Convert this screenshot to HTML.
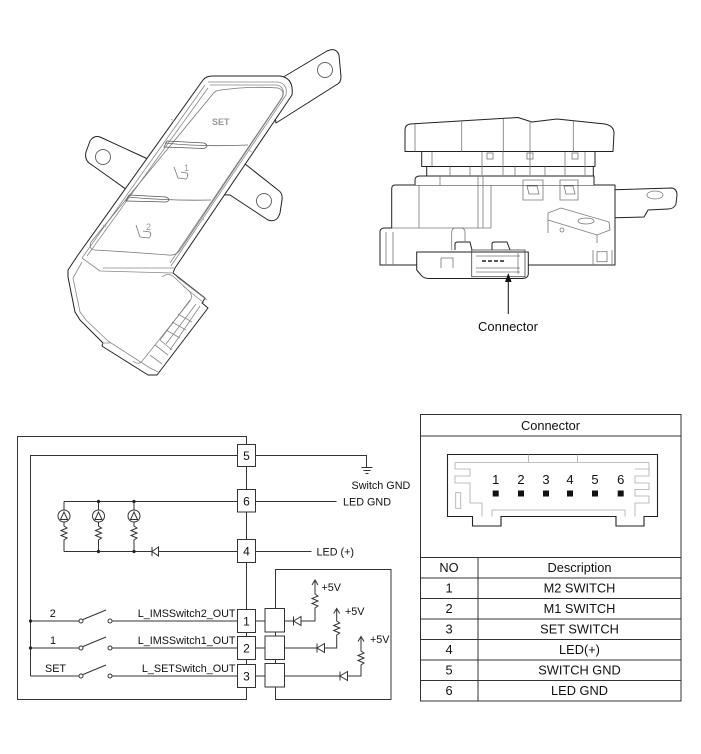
<!DOCTYPE html>
<html><head><meta charset="utf-8"><style>
html,body{margin:0;padding:0;background:#fff;}
svg{display:block;}
text{font-family:"Liberation Sans",Arial,sans-serif;fill:#111;}
</style></head><body>
<svg width="701" height="754" viewBox="0 0 701 754" xmlns="http://www.w3.org/2000/svg">
<!-- ============ LEFT SWITCH ILLUSTRATION ============ -->
<g stroke="#222" stroke-width="1" fill="#fff" stroke-linejoin="round">
  <path d="M270,85 L327,51 Q336,47 339,55 L341,77 Q341,83 336,85 L276,123 Z"/>
  <circle cx="325" cy="70" r="7.5" stroke="#666"/>
  <path d="M150,160 L100,137 Q94,135 90,141 L86,152 Q84,161 92,165 L130,192 L230,195 L268,220 Q277,223 280,213 L282,200 Q283,193 278,190 L240,160 Z"/>
  <circle cx="103" cy="157" r="7.5" stroke="#666"/>
  <circle cx="264" cy="201" r="7.5" stroke="#666"/>
  <path d="M78,255 L68,270 L68,277 L75,312 L80,320 L103,343 L102,346 L105,348 L148,375 L157,375 L208,308 L202,303 L205,298 L173,273 L175,268 L292,95 Q294,78 280,76 L213,76 Q206,76 203,80 Z"/>
</g>
<g stroke="#888" stroke-width="0.8" fill="none" stroke-linejoin="round">
  <path d="M208,82 L278,82 Q288,84 286,95 L171,266"/>
  <path d="M210,85 L277,85 Q285,87 283,96 L170,263"/>
  <path d="M205,85 L82,258"/>
  <path d="M208,88 L87,256"/>
  <path d="M82,258 L100,271 L173,273"/>
  <path d="M103,268 L175,268"/>
  <path d="M221,90 Q250,86 278,88 Q285,90 282,98 L180,250 Q176,256 168,255 Q130,252 95,250 Q88,249 91,242 L212,95 Q215,90 221,90 Z" stroke="#777"/>
  <path d="M165,143 Q200,147 248,145" stroke="#666"/>
  <path d="M127,197 Q170,201 211,200" stroke="#666"/>
  <path d="M167,141 L204,143 Q210,146 204,148.5 L164,147 Z" stroke="#555"/>
  <path d="M129,195 L166,197 Q172,200 166,202 L126,201 Z" stroke="#555"/>
  <path d="M82,262 L73,278 L80,312 L86,320 L108,341 L150,368"/>
  <path d="M162,277 Q168,272 174,277 L190,292 Q193,297 190,301 L143,360 Q139,366 133,361"/>
  <path d="M177,277 L207,300 M183,286 L204,303 M190,300 L160,340 M196,304 L166,344 M200,306 L170,350 M160,340 L172,350 M166,330 L180,338 M172,322 L186,330 M178,314 L192,322 M150,355 L162,364 M155,345 L168,355"/>
  <path d="M150,368 L158,372 M103,343 L110,343"/>
  <path d="M174,167 L178,178 L186,179 Q189,176 187,173 L181,172" stroke="#777"/>
  <path d="M136,225 L140,237 L149,238 Q152,235 150,232 L143,231" stroke="#777"/>
  <path d="M171,119 L174,121 M248,150 L252,152 M103,225 L106,227 M200,218 L204,220" stroke="#aaa"/>
</g>
<text x="212" y="125" font-size="9" style="fill:#999;font-weight:bold">SET</text>
<text x="184" y="171" font-size="9" style="fill:#999">1</text>
<text x="146" y="230" font-size="9" style="fill:#999">2</text>

<!-- ============ RIGHT MODULE ILLUSTRATION ============ -->
<g stroke="#222" stroke-width="1" fill="#fff" stroke-linejoin="round">
  <path d="M605,190 L672,188 Q677,189 677,195 L676,204 Q674,209 668,209 L648,210 L644,217 L603,218 Z"/>
  <path d="M395,185 L615,185 L615,265 L380,265 L380,232 Q380,228 385,228 L391.7,228 L391.7,189 Q391.7,185 395,185 Z"/>
  <path d="M415,185 L415,180 Q415,176 420,176 L594,176 L594,185"/>
  <rect x="426.7" y="166.5" width="166.6" height="9.5"/>
  <rect x="421.7" y="151.5" width="173.3" height="15"/>
  <path d="M405,151.5 L405,130 Q405,125 410,124 L518,117.5 L532,122 L557,119 L605,124 Q614,126 614,133 L613,151.5 Z"/>
  <path d="M416.7,252 L528.3,252 L528.3,274 Q528,278.5 522,278.5 L428,278.5 Q423,278 421,275 L416.7,270 Z"/>
  <path d="M455,250 L455,244 Q455,242 458,242 L470,242 L472,250 M492,250 L492,244 Q492,242 495,242 L507,242 L510,250" fill="none"/>
</g>
<g stroke="#777" stroke-width="0.8" fill="none">
  <path d="M415,124 V151.5 M461.7,121 V151.5 M503.3,119 V151.5 M530,121 V151.5 M573.3,121 V151.5"/>
  <path d="M432,152 V166 M482,152 V175 M503,152 V175 M530,152 V175 M565,152 V175 M585,152 V175 M450,166.5 V176 M470,166.5 V176 M515,166.5 V176 M545,166.5 V176"/>
  <rect x="487" y="153" width="6" height="6"/><rect x="527" y="153" width="6" height="6"/><rect x="572" y="153" width="6" height="6"/>
  <path d="M419,185 V228 M491,185 V228 M391.7,228 H491 M440,176 V185 M478,176 V228 M483,176 V228"/>
  <path d="M523,180 H543 V200 H523 Z M560,180 H578 V200 H560 Z M527,186 L537,186 L539,194 L529,194 Z M564,186 L573,186 L575,194 L566,194 Z"/>
  <path d="M386,232 V265 M393,232 V265 M451.7,232 V250 M451.7,232 Q452,228 456,228 L462,228 Q465,229 465,232 V242"/>
  <path d="M548,213 L561,208 L609,222 L610,230 L597,235 L548,220 Z M548,220 V233 M597,235 V243"/>
  <ellipse cx="586" cy="221" rx="8" ry="3"/><circle cx="562" cy="230" r="2"/>
  <ellipse cx="655" cy="195" rx="8" ry="4"/>
  <rect x="597" y="251.7" width="10" height="10"/><path d="M593,250 V265 M612,250 V265"/>
  <rect x="471.7" y="250" width="53.3" height="26.7" stroke="#444"/>
  <path d="M476,256 H520 M476,268 H520 M476,272 H520 M441,258 H453 V268 M441,258 V268 M518,253 V274"/>
  <path d="M482,261 H486 M488,261 H492 M494,261 H498 M500,261 H504" stroke="#222" stroke-width="1.5"/>
</g>
<line x1="508.3" y1="280" x2="508.3" y2="314" stroke="#111" stroke-width="1"/>
<path d="M508.3,273 L505,282 L511.6,282 Z" fill="#111"/>
<text x="508" y="331" font-size="13" text-anchor="middle">Connector</text>

<!-- ============ SCHEMATIC ============ -->
<g stroke="#333" stroke-width="1" fill="none">
  <path d="M246.5,436.5 H17.5 V699.5 H246.5 Z"/>
  <path d="M30.5,676 V455.5 H237.5 M255.5,455.5 H366.5 V467"/>
  <path d="M361.5,467.5 H372.5 M363.5,470.5 H370.5 M365.5,473.5 H368.5"/>
  <path d="M64,501.5 H237.5 M255.5,501.5 H336.5"/>
  <path d="M64,551.5 H237.5 M255.5,551.5 H311.5"/>
  <path d="M64,501.5 V510 M64,522 V526 l3,2 l-6,2.5 l6,2.5 l-6,2.5 l6,2.5 l-3,2 V551.5"/>
  <path d="M98.5,501.5 V510 M98.5,522 V526 l3,2 l-6,2.5 l6,2.5 l-6,2.5 l6,2.5 l-3,2 V551.5"/>
  <path d="M134,501.5 V510 M134,522 V526 l3,2 l-6,2.5 l6,2.5 l-6,2.5 l6,2.5 l-3,2 V551.5"/>
  <circle cx="64" cy="516" r="6"/><circle cx="98.5" cy="516" r="6"/><circle cx="134" cy="516" r="6"/>
  <path d="M60.5,519.5 L64,512 L67.5,519.5 Z M95,519.5 L98.5,512 L102,519.5 Z M130.5,519.5 L134,512 L137.5,519.5 Z"/>
  <path d="M152,547 V556 M158.5,547 L152,551.5 L158.5,556 Z" fill="#fff"/>
  <path d="M30.5,621 H79 M83,619.5 L106,610 M112,621 H237.5"/>
  <path d="M30.5,648 H79 M83,646.5 L106,637 M112,648 H237.5"/>
  <path d="M30.5,676 H79 M83,674.5 L106,665 M112,676 H237.5"/>
  <circle cx="81" cy="621" r="2"/><circle cx="110" cy="621" r="2"/>
  <circle cx="81" cy="648" r="2"/><circle cx="110" cy="648" r="2"/>
  <circle cx="81" cy="676" r="2"/><circle cx="110" cy="676" r="2"/>
  <path d="M255.5,621 H265 M255.5,648 H265 M255.5,676 H265"/>
  <path d="M275.5,608.5 V569.5 H391 V699.5 H275.5 V687"/>
  <path d="M275.5,632 V636 M275.5,659.5 V664"/>
  <rect x="265" y="608.5" width="19.5" height="23.5" fill="#fff"/>
  <rect x="265" y="636" width="19.5" height="23.5" fill="#fff"/>
  <rect x="265" y="663.5" width="19.5" height="23.5" fill="#fff"/>
  <path d="M284.5,621 H293.5 M301,621 H315 V608 l3,-2 l-6,-2.5 l6,-2.5 l-6,-2.5 l6,-2.5 l-3,-2 V580 M312,585 L315,580 L318,585"/>
  <path d="M293.5,616.5 V625.5 M301,616.5 L293.5,621 L301,625.5 Z" fill="#fff"/>
  <path d="M284.5,648 H317 M324.5,648 H336.7 V635 l3,-2 l-6,-2.5 l6,-2.5 l-6,-2.5 l6,-2.5 l-3,-2 V608.5 M333.7,613.5 L336.7,608.5 L339.7,613.5"/>
  <path d="M317,643.5 V652.5 M324.5,643.5 L317,648 L324.5,652.5 Z" fill="#fff"/>
  <path d="M284.5,676 H340 M347.5,676 H361 V665 l3,-2 l-6,-2.5 l6,-2.5 l-6,-2.5 l6,-2.5 l-3,-2 V636.5 M358,641.5 L361,636.5 L364,641.5"/>
  <path d="M340,671.5 V680.5 M347.5,671.5 L340,676 L347.5,680.5 Z" fill="#fff"/>
  <rect x="237.5" y="444.5" width="18" height="22" fill="#fff"/>
  <rect x="237.5" y="489.5" width="18" height="22.5" fill="#fff"/>
  <rect x="237.5" y="539.5" width="18" height="23" fill="#fff"/>
  <rect x="237.5" y="609.5" width="18" height="23" fill="#fff"/>
  <rect x="237.5" y="636.5" width="18" height="23" fill="#fff"/>
  <rect x="237.5" y="664.5" width="18" height="23" fill="#fff"/>
</g>
<g fill="#222">
  <circle cx="98.5" cy="501.5" r="1.6"/><circle cx="134" cy="501.5" r="1.6"/>
  <circle cx="98.5" cy="551.5" r="1.6"/><circle cx="134" cy="551.5" r="1.6"/>
  <circle cx="30.5" cy="621" r="1.6"/><circle cx="30.5" cy="648" r="1.6"/>
</g>
<g font-size="12" text-anchor="middle">
  <text x="246.5" y="460">5</text><text x="246.5" y="505.5">6</text><text x="246.5" y="555.5">4</text>
  <text x="246.5" y="625.5">1</text><text x="246.5" y="652.5">2</text><text x="246.5" y="680.5">3</text>
</g>
<g font-size="10.8">
  <text x="351.5" y="489">Switch GND</text>
  <text x="343" y="505.5">LED GND</text>
  <text x="316.5" y="555.5">LED (+)</text>
  <text x="52.7" y="617" text-anchor="middle">2</text>
  <text x="53" y="644" text-anchor="middle">1</text>
  <text x="45" y="672">SET</text>
  <text x="235.5" y="617" text-anchor="end">L_IMSSwitch2_OUT</text>
  <text x="235.5" y="644" text-anchor="end">L_IMSSwitch1_OUT</text>
  <text x="235.5" y="672" text-anchor="end">L_SETSwitch_OUT</text>
  <text x="321.5" y="591">+5V</text>
  <text x="345" y="615">+5V</text>
  <text x="370" y="643">+5V</text>
</g>

<!-- ============ CONNECTOR TABLE ============ -->
<g stroke="#333" stroke-width="1" fill="none">
  <rect x="420.5" y="414.5" width="260.5" height="286.5"/>
  <path d="M420.5,436 H681 M420.5,557.5 H681 M420.5,578 H681 M420.5,598.5 H681 M420.5,619 H681 M420.5,639.5 H681 M420.5,660 H681 M420.5,680.5 H681"/>
  <path d="M478,557.5 V701"/>
  <path d="M447.5,454.5 H657.5 V516.5 H644 V526 H616 V516.5 H501 V526 H472.5 V516.5 H447.5 Z" stroke="#222" stroke-width="1.1"/>
</g>
<g stroke="#aaa" stroke-width="0.8" fill="none">
  <path d="M528.5,454.5 V462.5 M577.5,454.5 V462.5 M455,462.5 H649"/>
  <path d="M455,462.5 V469 H470 V476 H455 V483 H470 V503 H482 V516.5 M492,516.5 V510 H625 V516.5 M635,516.5 V503 H649 V496 H635 V489.5 H649 V483 H635 V476 H649 V469 H635"/>
  <path d="M649,462.5 V469"/>
  <rect x="455.7" y="492.7" width="5" height="15.6"/>
</g>
<g font-size="13" text-anchor="middle">
  <text x="495.7" y="484">1</text><text x="521" y="484">2</text><text x="546" y="484">3</text>
  <text x="570" y="484">4</text><text x="595" y="484">5</text><text x="620.7" y="484">6</text>
</g>
<g fill="#111">
  <rect x="492.7" y="490.5" width="6" height="6"/><rect x="518" y="490.5" width="6" height="6"/>
  <rect x="543" y="490.5" width="6" height="6"/><rect x="567" y="490.5" width="6" height="6"/>
  <rect x="592" y="490.5" width="6" height="6"/><rect x="617.7" y="490.5" width="6" height="6"/>
</g>
<g font-size="12.8" text-anchor="middle">
  <text x="550.5" y="430">Connector</text>
  <text x="449" y="572">NO</text><text x="579.5" y="572">Description</text>
  <text x="449" y="592.5">1</text><text x="579.5" y="592.5">M2 SWITCH</text>
  <text x="449" y="613">2</text><text x="579.5" y="613">M1 SWITCH</text>
  <text x="449" y="633.5">3</text><text x="579.5" y="633.5">SET SWITCH</text>
  <text x="449" y="654">4</text><text x="579.5" y="654">LED(+)</text>
  <text x="449" y="674.5">5</text><text x="579.5" y="674.5">SWITCH GND</text>
  <text x="449" y="695">6</text><text x="579.5" y="695">LED GND</text>
</g>
</svg>
</body></html>
